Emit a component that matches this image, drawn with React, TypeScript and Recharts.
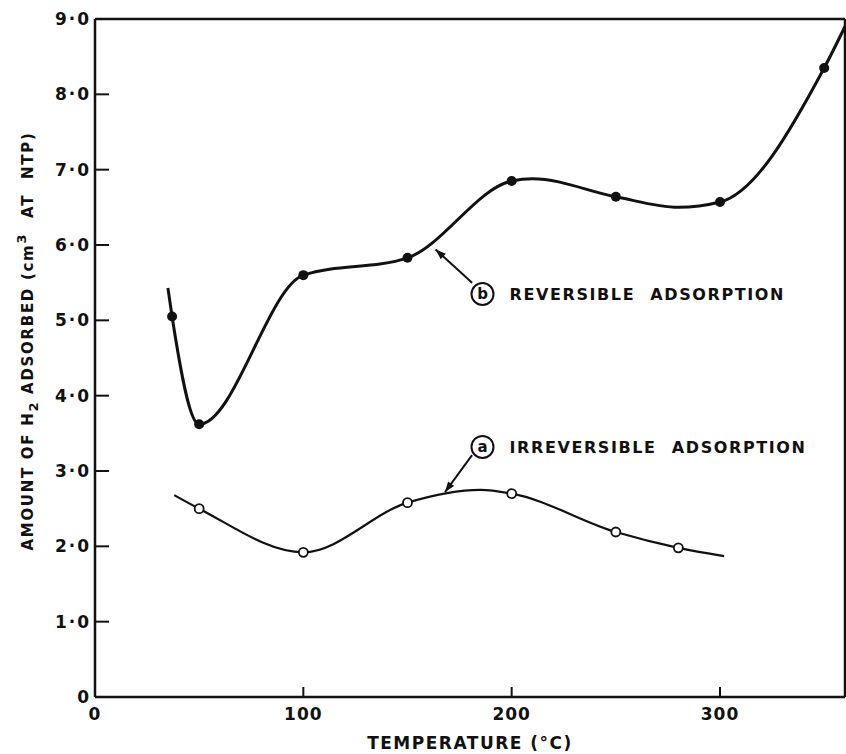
import {
  ComposedChart,
  Line,
  ReferenceDot,
  ReferenceLine,
  Scatter,
  XAxis,
  YAxis,
} from 'recharts'

// curve (b): reversible adsorption, filled markers
const revTemps = [37, 50, 100, 150, 200, 250, 300, 350]
const revAmounts = [5.05, 3.62, 5.6, 5.83, 6.85, 6.64, 6.57, 8.35]
// drawn line only: where it starts/ends beyond the markers and where it bends
const revLineStart = [35, 5.43]
const revLineEnd = [360, 8.9]
const revBendTemps = [210, 280]
const revBendAmounts = [6.88, 6.5]

// curve (a): irreversible adsorption, open markers
const irrTemps = [50, 100, 150, 200, 250, 280]
const irrAmounts = [2.5, 1.92, 2.58, 2.7, 2.19, 1.98]
const irrLineStart = [38, 2.68]
const irrLineEnd = [302, 1.87]
const irrBendTemps = [185]
const irrBendAmounts = [2.75]

const xTicks = [0, 100, 200, 300]
const yTicks = [0, 1, 2, 3, 4, 5, 6, 7, 8, 9]
const rightTicks = [1, 2, 3, 4, 5, 6, 7, 8]
const topTicks = [100, 200, 300]

// annotation anchors (data coords): circled letter, arrow tail, arrow tip
const revNote = { x: 186, y: 5.35, tail: [181, 5.5], tip: [163.5, 5.94] }
const irrNote = { x: 186, y: 3.32, tail: [181, 3.21], tip: [168, 2.72] }

const INK = '#111'
const FONT = '"DejaVu Sans", sans-serif'
const GAP = 6

const toPoints = (xs: number[], ys: number[]) => xs.map((x, i) => ({ x, y: ys[i] }))
const byX = (a: { x: number }, b: { x: number }) => a.x - b.x

const revMarks = toPoints(revTemps, revAmounts)
const irrMarks = toPoints(irrTemps, irrAmounts)
const revLine = [
  { x: revLineStart[0], y: revLineStart[1] },
  ...revMarks,
  ...toPoints(revBendTemps, revBendAmounts),
  { x: revLineEnd[0], y: revLineEnd[1] },
].sort(byX)
const irrLine = [
  { x: irrLineStart[0], y: irrLineStart[1] },
  ...irrMarks,
  ...toPoints(irrBendTemps, irrBendAmounts),
  { x: irrLineEnd[0], y: irrLineEnd[1] },
].sort(byX)

function fmtY(v: number) {
  return v === 0 ? '0' : v.toFixed(1).replace('.', '·')
}

function LeftTick({ x, y, payload }: any) {
  const ax = x + GAP
  return (
    <g>
      <line x1={ax} x2={ax + 14} y1={y} y2={y} stroke={INK} strokeWidth={2} />
      <text
        x={ax - 4}
        y={y}
        dy={6}
        textAnchor="end"
        fontFamily={FONT}
        fontWeight="bold"
        fontSize={17}
        letterSpacing={2}
        fill={INK}
      >
        {fmtY(payload.value)}
      </text>
    </g>
  )
}

function BottomTick({ x, y, payload }: any) {
  const ay = y - GAP
  return (
    <g>
      {payload.value !== 0 && (
        <line x1={x} x2={x} y1={ay} y2={ay - 10} stroke={INK} strokeWidth={2} />
      )}
      <text
        x={x}
        y={ay + 23}
        textAnchor="middle"
        fontFamily={FONT}
        fontWeight="bold"
        fontSize={17}
        letterSpacing={1}
        fill={INK}
      >
        {payload.value}
      </text>
    </g>
  )
}

function RightTick({ x, y }: any) {
  const ax = x - GAP
  return <line x1={ax} x2={ax - 10} y1={y} y2={y} stroke={INK} strokeWidth={2} />
}

function TopTick({ x, y }: any) {
  const ay = y + GAP
  return <line x1={x} x2={x} y1={ay} y2={ay + 8} stroke={INK} strokeWidth={2} />
}

function FilledDot({ cx, cy }: any) {
  return <circle cx={cx} cy={cy} r={5} fill={INK} />
}

function OpenDot({ cx, cy }: any) {
  return <circle cx={cx} cy={cy} r={4.5} fill="#fff" stroke={INK} strokeWidth={1.8} />
}

function Arrow({ x1, y1, x2, y2 }: any) {
  const ang = Math.atan2(y2 - y1, x2 - x1)
  const len = 11
  const w = 0.35
  const p1 = [x2 - len * Math.cos(ang - w), y2 - len * Math.sin(ang - w)]
  const p2 = [x2 - len * Math.cos(ang + w), y2 - len * Math.sin(ang + w)]
  return (
    <g>
      <line x1={x1} y1={y1} x2={x2} y2={y2} stroke={INK} strokeWidth={2} />
      <polygon points={`${x2},${y2} ${p1[0]},${p1[1]} ${p2[0]},${p2[1]}`} fill={INK} />
    </g>
  )
}

function noteShape(letter: string, label: string) {
  return ({ cx, cy }: any) => (
    <g>
      <circle cx={cx} cy={cy} r={11} fill="#fff" stroke={INK} strokeWidth={2} />
      <text
        x={cx}
        y={cy}
        dy={5}
        textAnchor="middle"
        fontFamily={FONT}
        fontWeight="bold"
        fontSize={15}
        fill={INK}
      >
        {letter}
      </text>
      <text
        x={cx + 27}
        y={cy}
        dy={6}
        fontFamily={FONT}
        fontWeight="bold"
        fontSize={16}
        letterSpacing={1.6}
        wordSpacing={8}
        fill={INK}
      >
        {label}
      </text>
    </g>
  )
}

function YTitle() {
  return (
    <text
      x={28}
      y={341}
      transform="rotate(-90 28 341)"
      textAnchor="middle"
      dominantBaseline="central"
      fontFamily={FONT}
      fontWeight="bold"
      fontSize={15}
      letterSpacing={1.7}
      fill={INK}
    >
      AMOUNT OF H<tspan fontSize={13} dy={5}>2</tspan>
      <tspan dy={-5}> ADSORBED (cm</tspan>
      <tspan fontSize={13} dy={-7}>3</tspan>
      <tspan dy={7} wordSpacing={8}> AT NTP)</tspan>
    </text>
  )
}

function XTitle() {
  return (
    <text
      x={470}
      y={749}
      textAnchor="middle"
      fontFamily={FONT}
      fontWeight="bold"
      fontSize={17}
      letterSpacing={1.5}
      fill={INK}
    >
      TEMPERATURE (°C)
    </text>
  )
}

export default function App() {
  return (
    <div style={{ position: 'absolute', left: 0, top: 0, background: '#fff' }}>
      <ComposedChart
        width={846}
        height={754}
        margin={{ top: 0, right: 0, bottom: 0, left: 0 }}
      >
        <XAxis
          type="number"
          dataKey="x"
          domain={[0, 360]}
          ticks={xTicks}
          height={57}
          tickSize={0}
          tickMargin={GAP}
          tick={<BottomTick />}
          axisLine={{ stroke: INK, strokeWidth: 2.5 }}
          label={{ content: () => <XTitle /> }}
        />
        <XAxis
          xAxisId="top"
          orientation="top"
          type="number"
          domain={[0, 360]}
          ticks={topTicks}
          height={19}
          tickSize={0}
          tickMargin={GAP}
          tick={<TopTick />}
          axisLine={{ stroke: INK, strokeWidth: 2.5 }}
        />
        <YAxis
          type="number"
          domain={[0, 9]}
          ticks={yTicks}
          width={95}
          tickSize={0}
          tickMargin={GAP}
          tick={<LeftTick />}
          axisLine={{ stroke: INK, strokeWidth: 2.5 }}
          label={{ content: () => <YTitle /> }}
        />
        <YAxis
          yAxisId="right"
          orientation="right"
          type="number"
          domain={[0, 9]}
          ticks={rightTicks}
          width={1}
          tickSize={0}
          tickMargin={GAP}
          tick={<RightTick />}
          axisLine={{ stroke: INK, strokeWidth: 2.5 }}
        />
        <Line
          data={revLine}
          dataKey="y"
          type="monotone"
          stroke={INK}
          strokeWidth={3}
          dot={false}
          activeDot={false}
          isAnimationActive={false}
        />
        <Line
          data={irrLine}
          dataKey="y"
          type="monotone"
          stroke={INK}
          strokeWidth={2.2}
          dot={false}
          activeDot={false}
          isAnimationActive={false}
        />
        <Scatter data={revMarks} dataKey="y" shape={<FilledDot />} isAnimationActive={false} />
        <Scatter data={irrMarks} dataKey="y" shape={<OpenDot />} isAnimationActive={false} />
        <ReferenceLine
          segment={[
            { x: revNote.tail[0], y: revNote.tail[1] },
            { x: revNote.tip[0], y: revNote.tip[1] },
          ]}
          shape={<Arrow />}
        />
        <ReferenceLine
          segment={[
            { x: irrNote.tail[0], y: irrNote.tail[1] },
            { x: irrNote.tip[0], y: irrNote.tip[1] },
          ]}
          shape={<Arrow />}
        />
        <ReferenceDot
          x={revNote.x}
          y={revNote.y}
          r={11}
          shape={noteShape('b', 'REVERSIBLE ADSORPTION')}
        />
        <ReferenceDot
          x={irrNote.x}
          y={irrNote.y}
          r={11}
          shape={noteShape('a', 'IRREVERSIBLE ADSORPTION')}
        />
      </ComposedChart>
    </div>
  )
}
